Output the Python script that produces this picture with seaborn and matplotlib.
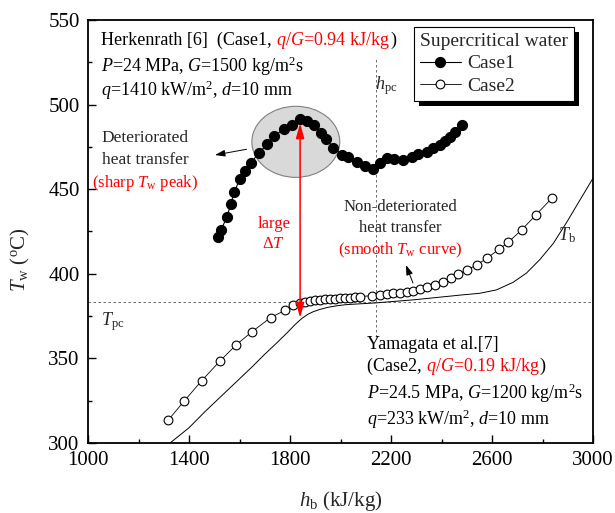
import matplotlib
matplotlib.use('Agg')
import matplotlib.pyplot as plt
import matplotlib.patheffects as pe
import seaborn as sns
from matplotlib.patches import Ellipse
from matplotlib.offsetbox import TextArea, HPacker, AnnotationBbox

# ---- data ----
case1_h = [1516, 1527, 1550, 1565, 1580, 1601, 1620, 1645, 1677, 1710, 1736, 1777, 1806,
           1840, 1866, 1894, 1924, 1944, 1972, 2006, 2030, 2064, 2097, 2130, 2156, 2183,
           2212, 2249, 2282, 2308, 2341, 2367, 2394, 2414, 2434, 2453, 2480]
case1_T = [422, 426, 433.5, 441, 448.5, 456, 460.5, 465.5, 471.5, 476.5, 481.5, 485.5, 488,
           491.5, 490.5, 488, 483.2, 479.5, 474.5, 470.5, 469, 466, 463.5, 462, 465.5, 468.2,
           468, 467.5, 469.2, 470.6, 472.2, 474.2, 476.3, 478.3, 481, 484, 488]

case2_h = [1318, 1381, 1450, 1523, 1586, 1648, 1723, 1780, 1813, 1840, 1859, 1879, 1899,
           1919, 1939, 1958, 1978, 1998, 2018, 2038, 2057, 2077, 2123, 2156, 2183, 2209,
           2236, 2262, 2288, 2315, 2341, 2374, 2405, 2436, 2466, 2500, 2539, 2579, 2628,
           2664, 2717, 2774, 2839]
case2_T = [313.6, 324.8, 336.8, 348.5, 357.9, 365.6, 374.1, 378.4, 381.3, 382.9, 383.5, 383.9,
           384.3, 384.7, 384.9, 385.1, 385.3, 385.5, 385.7, 385.9, 386.1, 386.5, 387.1, 387.5,
           387.9, 388.5, 388.9, 389.5, 390.1, 390.9, 392.1, 393.6, 395.3, 397.3, 399.7, 402.2,
           405.2, 409.1, 414.5, 418.6, 425.9, 434.8, 445]

tb_h = [1325, 1400, 1463, 1530, 1595, 1650, 1701, 1750, 1793, 1820, 1846, 1870, 1892, 1920,
        1950, 1990, 2024, 2140, 2288, 2381, 2480, 2552, 2618, 2684, 2737, 2790, 2843, 2896,
        2948, 3000]
tb_T = [300, 309, 318.5, 328, 337.2, 345, 352.6, 359.5, 365.8, 370, 373.5, 376, 377.6, 379,
        380.2, 381.2, 381.8, 382.8, 384.6, 386, 387.5, 388.5, 390.5, 395, 400.5, 408.5, 418,
        430.5, 443.5, 456.5]

x_ticks = [1000, 1400, 1800, 2200, 2600, 3000]
y_ticks = [300, 350, 400, 450, 500, 550]

h_pc = 2140
T_pc = 383.5
peak_h = 1840
dT_range = [374, 489]

sns.set_style('ticks')
plt.rcParams['font.family'] = ['Liberation Serif', 'DejaVu Serif']
plt.rcParams['mathtext.fontset'] = 'custom'
plt.rcParams['mathtext.rm'] = 'Liberation Serif'
plt.rcParams['mathtext.it'] = 'Liberation Serif:italic'
plt.rcParams['mathtext.bf'] = 'Liberation Serif:bold'

fig = plt.figure(figsize=(6.15, 5.13), dpi=100)
ax = fig.add_axes([88 / 615, 1 - 443 / 513, 505 / 615, 423 / 513])

# shaded ellipse round the Case1 peak
ax.add_patch(Ellipse((1823, 478), 348, 42, fc='#d9d9d9', ec='#808080', lw=0.8, zorder=1))

# reference lines
ax.axhline(T_pc, color='#555555', ls=(0, (3, 3)), lw=0.6, zorder=1)
ax.vlines(h_pc, 362.8, 528, color='#555555', ls=(0, (3, 3)), lw=0.6, zorder=1)

sns.lineplot(x=tb_h, y=tb_T, ax=ax, color='k', lw=0.7, sort=False, zorder=2)
sns.lineplot(x=case1_h, y=case1_T, ax=ax, sort=False, color='k', lw=0.8, marker='o',
             markersize=7.3, markerfacecolor='k', markeredgecolor='k', label='Case1', zorder=4)
sns.lineplot(x=case2_h, y=case2_T, ax=ax, sort=False, color='k', lw=0.6, marker='o',
             markersize=6.3, markerfacecolor='white', markeredgecolor='k', markeredgewidth=0.8,
             label='Case2', zorder=3)

# large delta T arrow
ax.annotate('', xy=(peak_h, dT_range[0]), xytext=(peak_h, dT_range[1]),
            arrowprops=dict(arrowstyle='<|-|>,head_length=0.9,head_width=0.25', color='red',
                            lw=1.1, shrinkA=0, shrinkB=0), zorder=5)
ax.text(0.368, 0.518, 'large', color='red', fontsize=12, ha='center', va='center',
        transform=ax.transAxes)
ax.text(0.368, 0.471, 'Δ$T$', color='red', fontsize=12, ha='center', va='center',
        transform=ax.transAxes)

# small black arrows
blk = dict(arrowstyle='-|>,head_length=0.6,head_width=0.2', color='k', lw=0.7,
           shrinkA=0, shrinkB=0)
ax.annotate('', xy=(1503, 470.2), xytext=(1628, 473.6), arrowprops=blk)
ax.annotate('', xy=(2259, 405.2), xytext=(2287, 394.6), arrowprops=blk)

fs = 13


def line(parts, x, y, align=(0, 0.5), size=fs):
    boxes = [TextArea(s, textprops=dict(color=c, fontsize=size)) for s, c in parts]
    pack = HPacker(children=boxes, align='baseline', pad=0, sep=0)
    ab = AnnotationBbox(pack, (x, y), xycoords='axes fraction', box_alignment=align,
                        frameon=False, pad=0)
    ax.add_artist(ab)


line([('Herkenrath [6]  (Case1, ', 'k'), ('$q$/$G$=0.94 kJ/kg', 'red'), (')', 'k')], 0.026, 0.951)
line([('$P$=24 MPa, $G$=1500 kg/m$^2$s', 'k')], 0.026, 0.891)
line([('$q$=1410 kW/m$^2$, $d$=10 mm', 'k')], 0.026, 0.834)

line([('Yamagata et al.[7]', 'k')], 0.552, 0.232)
line([('(Case2, ', 'k'), ('$q$/$G$=0.19 kJ/kg', 'red'), (')', 'k')], 0.552, 0.180)
line([('$P$=24.5 MPa, $G$=1200 kg/m$^2$s', 'k')], 0.552, 0.117)
line([('$q$=233 kW/m$^2$, $d$=10 mm', 'k')], 0.552, 0.055)

ax.text(0.113, 0.721, 'Deteriorated', fontsize=12.5, ha='center', va='center', transform=ax.transAxes)
ax.text(0.113, 0.669, 'heat transfer', fontsize=12.5, ha='center', va='center', transform=ax.transAxes)
line([('(sharp $T_{\\rm w}$ peak)', 'red')], 0.113, 0.615, align=(0.5, 0.5), size=12)

ax.text(0.618, 0.558, 'Non-deteriorated', fontsize=12, ha='center', va='center', transform=ax.transAxes)
ax.text(0.618, 0.508, 'heat transfer', fontsize=12, ha='center', va='center', transform=ax.transAxes)
line([('(smooth $T_{\\rm w}$ curve)', 'red')], 0.618, 0.456, align=(0.5, 0.5), size=12)

ax.text(0.59, 0.846, '$h_{\\rm pc}$', fontsize=13, ha='center', va='center', transform=ax.transAxes)
ax.text(0.05, 0.286, '$T_{\\rm pc}$', fontsize=13, ha='center', va='center', transform=ax.transAxes)
ax.text(0.949, 0.492, '$T_{\\rm b}$', fontsize=13, ha='center', va='center', transform=ax.transAxes)

# axes
ax.set_xlim(1000, 3000)
ax.set_ylim(300, 550)
ax.set_xticks(x_ticks)
ax.set_xticks([t + 200 for t in x_ticks[:-1]], minor=True)
ax.set_yticks(y_ticks)
ax.set_yticks([t + 25 for t in y_ticks[:-1]], minor=True)
ax.tick_params(which='both', direction='in', top=False, right=False, width=1.0, colors='k',
               labelsize=15)
ax.tick_params(which='major', length=6, pad=6)
ax.tick_params(which='minor', length=3)
for sp in ax.spines.values():
    sp.set_visible(True)
    sp.set_linewidth(1.3)
    sp.set_color('k')

ax.set_xlabel('$h_{\\rm b}$ (kJ/kg)', fontsize=15)
ax.set_ylabel('$T_{\\rm w}$ ($^{\\rm o}$C)', fontsize=15)
ax.xaxis.set_label_coords(0.5, -0.108)
ax.yaxis.set_label_coords(-0.11, 0.433)

handles, labels = ax.get_legend_handles_labels()
leg = ax.legend(handles, labels, title='Supercritical water', loc='upper right',
                bbox_to_anchor=(0.962, 0.983), borderaxespad=0, fancybox=False,
                edgecolor='k', framealpha=1, fontsize=14,
                title_fontsize=14, handlelength=2.1, alignment='left', borderpad=0.3,
                labelspacing=0.25, handletextpad=0.35)
leg.get_frame().set_linewidth(0.8)
leg.get_frame().set_path_effects([pe.SimplePatchShadow(offset=(3.5, -3.5), shadow_rgbFace='k',
                                                       alpha=1), pe.Normal()])

fig.savefig('out.png', dpi=100)
